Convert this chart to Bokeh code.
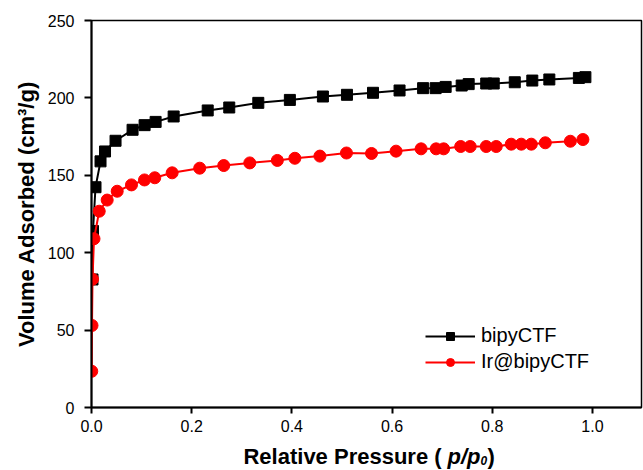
from bokeh.plotting import figure
from bokeh.layouts import column
from bokeh.models import Range1d, Legend, LegendItem, PrintfTickFormatter
from bokeh.core.properties import value
from bokeh.embed import file_html
from bokeh.resources import INLINE

# --- data ---
bipy_p = [0.002, 0.003, 0.008, 0.018, 0.027, 0.048, 0.082, 0.106, 0.128, 0.164,
          0.232, 0.275, 0.333, 0.396, 0.462, 0.510, 0.562, 0.615, 0.662, 0.687,
          0.707, 0.739, 0.753, 0.788, 0.803, 0.845, 0.880, 0.914, 0.973, 0.986]
bipy_v = [82.7, 114.0, 142.3, 159.0, 165.4, 172.3, 179.4, 182.4, 184.5, 188.0,
          191.9, 193.8, 196.8, 198.7, 200.9, 202.0, 203.3, 204.8, 206.3, 206.3,
          207.1, 208.0, 208.9, 209.3, 209.3, 210.1, 211.2, 211.9, 212.9, 213.4]

ir_p = [0.0005, 0.001, 0.002, 0.005, 0.0154, 0.0313, 0.0513, 0.0798, 0.1058, 0.1263,
        0.161, 0.216, 0.264, 0.316, 0.371, 0.406, 0.456, 0.509, 0.559, 0.608,
        0.658, 0.688, 0.703, 0.737, 0.756, 0.788, 0.808, 0.838, 0.858, 0.878,
        0.906, 0.956, 0.981]
ir_v = [23.4, 53.0, 82.9, 109.0, 126.8, 134.0, 139.7, 143.8, 147.0, 148.4,
        151.6, 154.6, 156.3, 158.0, 159.6, 161.0, 162.4, 164.4, 164.1, 165.6,
        167.1, 167.1, 167.1, 168.6, 168.6, 168.6, 168.6, 170.1, 170.1, 170.1,
        171.0, 172.0, 173.1]

x_ticks = [0.0, 0.2, 0.4, 0.6, 0.8, 1.0]
y_ticks = [0, 50, 100, 150, 200, 250]
series_names = ["bipyCTF", "Ir@bipyCTF"]
y_title = "Volume Adsorbed (cm\u00b3/g)"
x_title_parts = ["Relative Pressure ( ", "p/p", "0", ")"]

FONT = "Liberation Sans"

p = figure(width=643, height=445, output_backend="svg", toolbar_location=None,
           x_range=Range1d(0, 1.098), y_range=Range1d(0, 250),
           min_border_left=91, min_border_right=2, min_border_top=20,
           min_border_bottom=38)

p.xgrid.visible = False
p.ygrid.visible = False
p.outline_line_color = "black"
p.outline_line_width = 1.5
p.background_fill_color = "white"
p.border_fill_color = "white"

for ax in (p.xaxis[0], p.yaxis[0]):
    ax.axis_line_width = 2
    ax.axis_line_color = "black"
    ax.major_tick_line_width = 2
    ax.major_tick_line_color = "black"
    ax.major_tick_in = 0
    ax.minor_tick_line_color = None
    ax.major_label_text_font = FONT
    ax.major_label_text_font_size = "16px"
    ax.major_label_text_color = "black"

p.xaxis.ticker = x_ticks
p.yaxis.ticker = y_ticks
p.xaxis.formatter = PrintfTickFormatter(format="%.1f")
p.xaxis.major_tick_out = 6
p.yaxis.major_tick_out = 7
p.xaxis.major_label_standoff = 6
p.yaxis.major_label_standoff = 10

p.yaxis.axis_label = y_title
p.yaxis.axis_label_text_font = FONT
p.yaxis.axis_label_text_font_size = "22px"
p.yaxis.axis_label_text_font_style = "bold"
p.yaxis.axis_label_text_color = "black"
p.yaxis.axis_label_standoff = 6

# series
l1 = p.line(bipy_p, bipy_v, line_color="black", line_width=2)
s1 = p.scatter(bipy_p, bipy_v, marker="square", size=11, color="black")
l2 = p.line(ir_p, ir_v, line_color="#ff0000", line_width=2)
s2 = p.scatter(ir_p, ir_v, marker="circle", size=12, color="#ff0000")

legend = Legend(items=[LegendItem(label=series_names[0], renderers=[l1, s1]),
                       LegendItem(label=series_names[1], renderers=[l2, s2])],
                location=(334, 34), glyph_width=50, glyph_height=20,
                label_height=20, label_standoff=6, spacing=3, padding=0,
                margin=0, border_line_color=None, background_fill_alpha=0,
                label_text_font=FONT, label_text_font_size="20px",
                label_text_color="black")
p.add_layout(legend)

# x-axis title strip (mixed bold / bold-italic / subscript), shares p's x scale
t = figure(width=643, height=25, output_backend="svg", toolbar_location=None,
           x_range=p.x_range, y_range=Range1d(0, 25),
           x_axis_type=None, y_axis_type=None, min_border=0)
t.title.visible = False
t.title.text_font_size = "0px"
t.title.standoff = 0
t.outline_line_color = None
t.xgrid.visible = False
t.ygrid.visible = False
t.background_fill_color = "white"
t.border_fill_color = "white"

def part(x, y, txt, size, style):
    t.text(x=[x], y=[y], text=[txt], text_font=value(FONT),
           text_font_size=size, text_font_style=style, text_color="black",
           text_baseline="alphabetic", text_align="left")

part(0.3034, 14, x_title_parts[0], "22px", "bold")
part(0.7106, 14, x_title_parts[1], "22px", "bold italic")
part(0.7764, 10.5, x_title_parts[2], "12px", "bold italic")
part(0.7904, 14, x_title_parts[3], "22px", "bold")

layout = column(p, t, spacing=0)
open("out.html", "w").write(file_html(layout, INLINE))
